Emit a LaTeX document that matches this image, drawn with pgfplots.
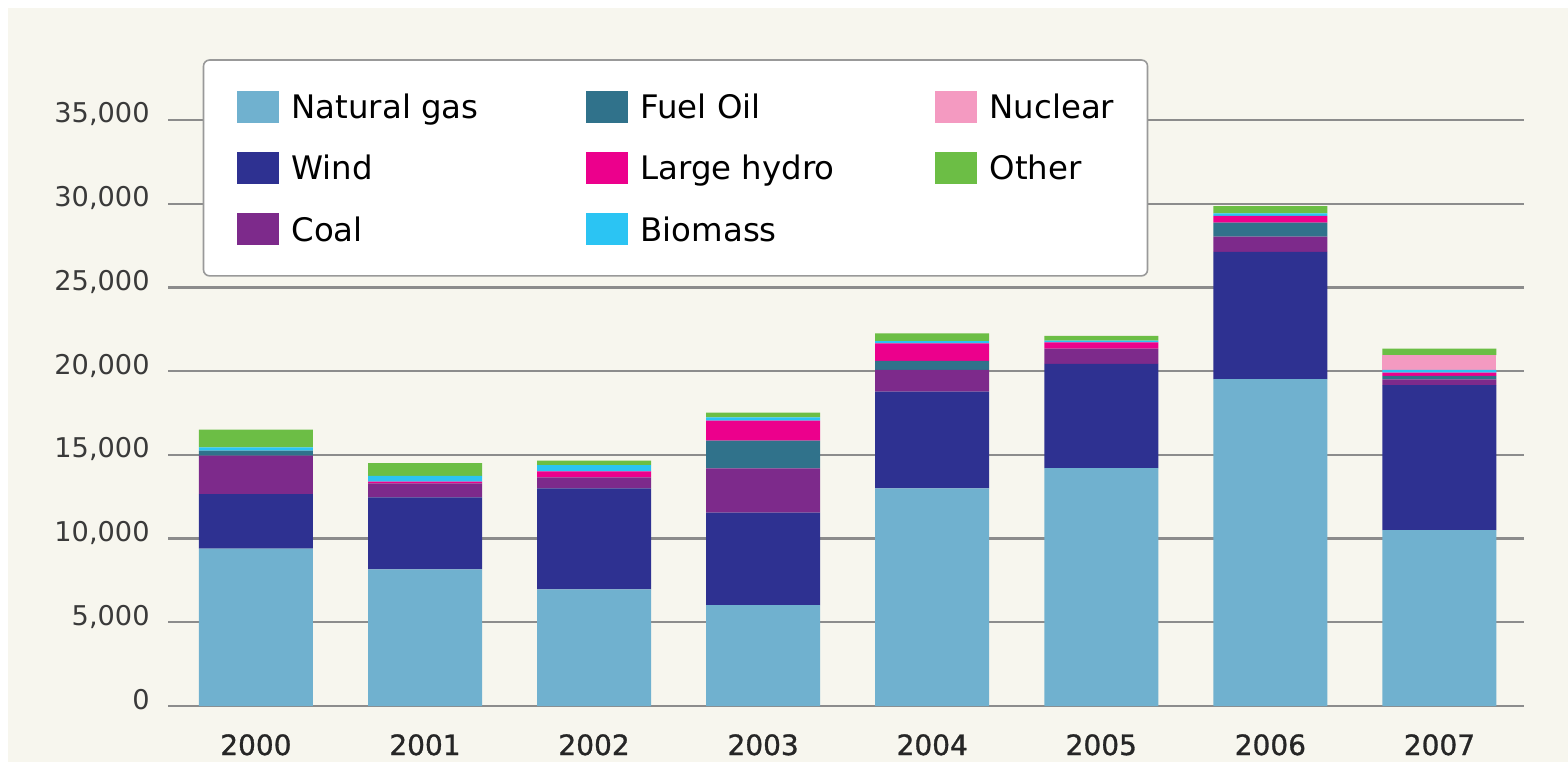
\documentclass[border=0pt]{standalone}
\usepackage{fontspec}
\setmainfont{DejaVu Sans}
\newfontfamily\yearfont[FakeBold=1]{DejaVu Sans}
\usepackage{pgfplots}
\usepackage{pgfplotstable}
\pgfplotsset{compat=1.18}
\definecolor{bgc}{HTML}{F7F6EE}
\definecolor{ngc}{HTML}{70B1CF}
\definecolor{windc}{HTML}{2E3191}
\definecolor{coalc}{HTML}{7D2A8B}
\definecolor{fuelc}{HTML}{30728B}
\definecolor{hydroc}{HTML}{EC008C}
\definecolor{bioc}{HTML}{2BC4F3}
\definecolor{nucc}{HTML}{F49AC1}
\definecolor{otherc}{HTML}{6CBE45}
\definecolor{gridc}{HTML}{8C8C8C}
\definecolor{tickc}{HTML}{3A3A3A}
\pgfplotsset{
  sq/.style={legend image code/.code={\fill[##1, draw=none, sharp corners] (0pt,-8pt) rectangle (21pt,8pt); \path (27.5pt,0pt);}},
}
\pgfplotstableread{
x ng wind coal fuel hydro bio nuc other
0 9400 3250 2300 300 0 200 0 1050
1 8160 4300 840 0 100 340 0 760
2 6970 6030 660 0 360 360 0 270
3 6030 5520 2650 1650 1190 200 0 280
4 13000 5770 1300 550 1040 140 0 460
5 14210 6220 910 0 380 100 0 280
6 19530 7600 900 840 400 160 0 430
7 10510 8660 340 200 200 160 890 380
}\datatable
\begin{document}
\begin{tikzpicture}
\fill[white] (0,0) rectangle (784pt,381pt);
\fill[bgc] (4pt,0) rectangle (784pt,377pt);
\begin{axis}[
  at={(84pt,28pt)}, anchor=south west,
  scale only axis, width=678pt, height=309.75pt,
  xmin=-0.52, xmax=7.5, ymin=0, ymax=37000,
  ybar stacked, bar width=57pt,
  axis line style={draw=none},
  major tick length=0pt,
  ymajorgrids, grid style={gridc, line width=1.2pt},
  xtick={0,...,7}, xticklabels={2000,2001,2002,2003,2004,2005,2006,2007},
  ytick={0,5000,...,35000},
  scaled y ticks=false,
  /pgf/number format/assume math mode=true,
  /pgf/number format/1000 sep={,},
  yticklabel style={font=\fontsize{13.6}{16}\selectfont, text=tickc, anchor=base east, inner sep=0pt, xshift=-9pt, yshift=-1.5pt},
  xticklabel style={font=\yearfont\fontsize{14}{17}\selectfont, text=black!85, anchor=base, inner sep=0pt, yshift=-24.5pt},
  legend columns=3,
  legend cell align=left,
  legend style={at={(axis description cs:0.0256,1.044)}, anchor=north west,
    fill=white, draw=gray!80, line width=0.8pt, rounded corners=3pt,
    inner xsep=16.5pt, inner ysep=15.25pt, row sep=14.7pt, column sep=0pt,
    font=\fontsize{16.2}{19}\selectfont,
    nodes={inner sep=0pt, text height=12pt, text depth=0pt}},
]
\addplot[fill=ngc, draw=none, forget plot] table[x=x, y=ng] {\datatable};
\addplot[fill=windc, draw=none, forget plot] table[x=x, y=wind] {\datatable};
\addplot[fill=coalc, draw=none, forget plot] table[x=x, y=coal] {\datatable};
\addplot[fill=fuelc, draw=none, forget plot] table[x=x, y=fuel] {\datatable};
\addplot[fill=hydroc, draw=none, forget plot] table[x=x, y=hydro] {\datatable};
\addplot[fill=bioc, draw=none, forget plot] table[x=x, y=bio] {\datatable};
\addplot[fill=nucc, draw=none, forget plot] table[x=x, y=nuc] {\datatable};
\addplot[fill=otherc, draw=none, forget plot] table[x=x, y=other] {\datatable};
\addlegendimage{sq, fill=ngc, draw=none}
\addlegendentry{\makebox[147pt][l]{Natural gas}}
\addlegendimage{sq, fill=fuelc, draw=none}
\addlegendentry{\makebox[147pt][l]{Fuel Oil}}
\addlegendimage{sq, fill=nucc, draw=none}
\addlegendentry{\makebox[62.5pt][l]{Nuclear}}
\addlegendimage{sq, fill=windc, draw=none}
\addlegendentry{\makebox[147pt][l]{Wind}}
\addlegendimage{sq, fill=hydroc, draw=none}
\addlegendentry{\makebox[147pt][l]{Large hydro}}
\addlegendimage{sq, fill=otherc, draw=none}
\addlegendentry{\makebox[62.5pt][l]{Other}}
\addlegendimage{sq, fill=coalc, draw=none}
\addlegendentry{\makebox[147pt][l]{Coal}}
\addlegendimage{sq, fill=bioc, draw=none}
\addlegendentry{\makebox[147pt][l]{Biomass}}
\end{axis}
\pgfresetboundingbox
\useasboundingbox (0,0) rectangle (784pt,381pt);
\end{tikzpicture}
\end{document}
